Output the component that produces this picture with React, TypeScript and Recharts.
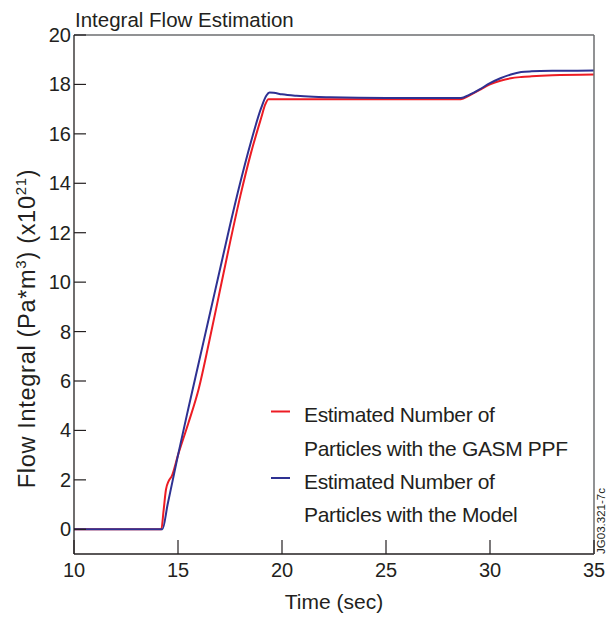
import React from "react";
import { LineChart, Line, XAxis, YAxis, Legend } from "recharts";

const redTime = [10, 14.2, 14.3, 14.42, 14.55, 14.7, 15, 15.5, 16, 16.5, 17, 17.5, 18, 18.5, 19, 19.2, 19.35, 20, 24, 28.6, 29, 29.5, 30, 30.5, 31, 31.5, 32, 33, 35];
const redValue = [0, 0, 0.7, 1.6, 1.95, 2.15, 3.0, 4.3, 5.7, 7.6, 9.6, 11.6, 13.5, 15.2, 16.65, 17.2, 17.4, 17.4, 17.4, 17.4, 17.55, 17.78, 18.0, 18.15, 18.25, 18.3, 18.33, 18.37, 18.4];

const blueTime = [10, 14.25, 14.5, 14.75, 15, 15.5, 16, 16.5, 17, 17.5, 18, 18.5, 19, 19.25, 19.4, 19.6, 20, 20.7, 21.5, 22.3, 25, 28.6, 29, 29.5, 30, 30.5, 31, 31.5, 32, 33, 35];
const blueValue = [0, 0, 1.0, 2.0, 3.0, 4.9, 6.75, 8.6, 10.45, 12.3, 14.05, 15.65, 17.05, 17.55, 17.67, 17.66, 17.6, 17.54, 17.5, 17.48, 17.45, 17.45, 17.58, 17.8, 18.05, 18.25, 18.4, 18.5, 18.53, 18.55, 18.56];

const xTicks = [10, 15, 20, 25, 30, 35];
const yTicks = [0, 2, 4, 6, 8, 10, 12, 14, 16, 18, 20];

const seriesNames = [
  ["Estimated Number of", "Particles with the GASM PPF"],
  ["Estimated Number of", "Particles with the Model"],
];
const seriesColors = ["#ed1c24", "#2e3192"];

const redData = redTime.map((t, i) => ({ t, v: redValue[i] }));
const blueData = blueTime.map((t, i) => ({ t, v: blueValue[i] }));

const FONT = "'Liberation Sans', Arial, Helvetica, sans-serif";
const TXT = "#231f20";
const FRAME = "#6d6e71";

const YTick = (props: any) => {
  const { x, y, payload } = props;
  return (
    <g>
      <line x1={x} x2={x + 12} y1={y} y2={y} stroke={TXT} strokeWidth={1.2} />
      <text x={x - 3} y={y + 7} textAnchor="end" fontSize={20} fontFamily={FONT} fill={TXT}>
        {payload.value}
      </text>
    </g>
  );
};

const XTick = (props: any) => {
  const { x, y, payload } = props;
  return (
    <g>
      <line x1={x} x2={x} y1={y} y2={y - 14} stroke={TXT} strokeWidth={1.2} />
      <text x={x} y={y + 23} textAnchor="middle" fontSize={20} fontFamily={FONT} fill={TXT}>
        {payload.value}
      </text>
    </g>
  );
};

const XLabel = (props: any) => {
  const vb = props.viewBox;
  return (
    <text x={vb.x + vb.width / 2} y={vb.y + 55} textAnchor="middle" fontSize={21} fontFamily={FONT} fill={TXT}>
      Time (sec)
    </text>
  );
};

const YLabel = (props: any) => {
  const vb = props.viewBox;
  const cx = 35;
  const cy = vb.y + vb.height / 2 + 34;
  return (
    <text
      x={cx}
      y={cy}
      transform={`rotate(-90, ${cx}, ${cy})`}
      textAnchor="middle"
      fontSize={23.5}
      letterSpacing={0.7}
      fontFamily={FONT}
      fill={TXT}
    >
      <tspan>Flow Integral (Pa*m</tspan>
      <tspan fontSize={15} dy={-9}>3</tspan>
      <tspan dy={9}>) (x10</tspan>
      <tspan fontSize={15} dy={-9}>21</tspan>
      <tspan dy={9}>)</tspan>
    </text>
  );
};

const TitleLabel = (props: any) => {
  const vb = props.viewBox;
  return (
    <text x={vb.x + 1} y={vb.y + vb.height - 8} fontSize={20.5} fontFamily={FONT} fill={TXT}>
      Integral Flow Estimation
    </text>
  );
};

const CodeLabel = (props: any) => {
  const vb = props.viewBox;
  const cx = vb.x + 11;
  const cy = vb.y + vb.height - 33;
  return (
    <text
      x={cx}
      y={cy}
      transform={`rotate(-90, ${cx}, ${cy})`}
      textAnchor="middle"
      fontSize={11.5}
      fontFamily={FONT}
      fill={TXT}
    >
      JG03.321-7c
    </text>
  );
};

const LegendContent = () => {
  return (
    <svg width={340} height={140} style={{ display: "block", overflow: "visible" }}>
      {seriesNames.map((lines, i) => {
        const base = 27 + i * 66.5;
        return (
          <g key={i}>
            <line x1={9} x2={28} y1={base - 10.5} y2={base - 10.5} stroke={seriesColors[i]} strokeWidth={2} />
            {lines.map((ln, j) => (
              <text
                key={j}
                x={42}
                y={base + j * 33.5}
                fontSize={21}
                letterSpacing={-0.35}
                fontFamily={FONT}
                fill={TXT}
              >
                {ln}
              </text>
            ))}
          </g>
        );
      })}
    </svg>
  );
};

export default function App() {
  return (
    <div>
      <style>{`body{margin:0;background:#fff}`}</style>
      <LineChart width={615} height={619} margin={{ top: 34, right: 20, bottom: 0, left: 0 }}>
        <XAxis
          xAxisId="bottom"
          dataKey="t"
          type="number"
          domain={[10, 35]}
          ticks={xTicks}
          tickSize={0}
          tickMargin={0}
          tickLine={false}
          tick={<XTick />}
          height={65}
          axisLine={{ stroke: TXT, strokeWidth: 1.3 }}
          allowDataOverflow
          label={XLabel}
        />
        <XAxis
          xAxisId="top"
          orientation="top"
          type="number"
          domain={[10, 35]}
          ticks={xTicks}
          height={1}
          tick={false}
          tickLine={false}
          axisLine={{ stroke: FRAME, strokeWidth: 1.5 }}
          label={TitleLabel}
        />
        <YAxis
          yAxisId="left"
          type="number"
          domain={[-1, 20]}
          ticks={yTicks}
          tickSize={0}
          tickMargin={0}
          tickLine={false}
          tick={<YTick />}
          width={74}
          axisLine={{ stroke: TXT, strokeWidth: 1.3 }}
          allowDataOverflow
          label={YLabel}
        />
        <YAxis
          yAxisId="right"
          orientation="right"
          type="number"
          domain={[-1, 20]}
          ticks={yTicks}
          width={1}
          tick={false}
          tickLine={false}
          axisLine={{ stroke: FRAME, strokeWidth: 1.5 }}
          label={CodeLabel}
        />
        <Legend
          layout="horizontal"
          verticalAlign="middle"
          align="center"
          content={LegendContent}
          wrapperStyle={{ left: 262, top: 395, width: 340, height: 140 }}
        />
        <Line
          xAxisId="bottom"
          yAxisId="left"
          data={redData}
          dataKey="v"
          type="monotone"
          stroke={seriesColors[0]}
          strokeWidth={2}
          dot={false}
          isAnimationActive={false}
          name="GASM PPF"
        />
        <Line
          xAxisId="bottom"
          yAxisId="left"
          data={blueData}
          dataKey="v"
          type="monotone"
          stroke={seriesColors[1]}
          strokeWidth={2}
          dot={false}
          isAnimationActive={false}
          name="Model"
        />
      </LineChart>
    </div>
  );
}
